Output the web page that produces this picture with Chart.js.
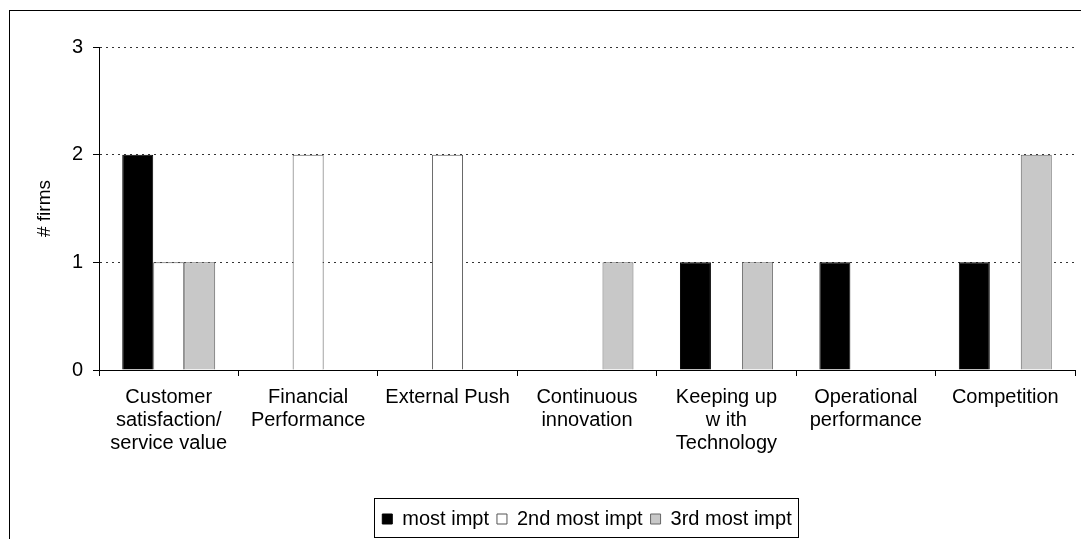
<!DOCTYPE html>
<html>
<head>
<meta charset="utf-8">
<script src="https://cdn.jsdelivr.net/npm/chart.js@4"></script>
<style>
  body { margin: 0; overflow: hidden; background: #fff; }
  .frame { position: absolute; left: 9px; top: 10px; width: 1100px; height: 600px; border: 1px solid #000; }
  #myChart { position: absolute; left: 0; top: 0; }
</style>
</head>
<body>
<div class="frame"></div>
<canvas id="myChart" width="1081" height="539"></canvas>
<script>
// categories and series
const categories = [
    ['Customer', 'satisfaction/', 'service value'],
    ['Financial', 'Performance'],
    ['External Push'],
    ['Continuous', 'innovation'],
    ['Keeping up', 'w ith', 'Technology'],
    ['Operational', 'performance'],
    ['Competition']
];
const mostImpt = [2, 0, 0, 0, 1, 1, 1];
const secondImpt = [1, 2, 2, 0, 0, 0, 0];
const thirdImpt = [1, 0, 0, 1, 1, 0, 2];
const yTicks = [0, 1, 2, 3];

const fontFamily = 'Liberation Sans, Arial, sans-serif';
const fontSize = 20;

// draws the box round the legend
const legendBox = {
    id: 'legendBox',
    afterDraw(chart) {
        const boxes = chart.legend.legendHitBoxes;
        if (!boxes || !boxes.length) return;
        const first = boxes[0];
        const last = boxes[boxes.length - 1];
        const ctx = chart.ctx;
        ctx.save();
        ctx.strokeStyle = '#000';
        ctx.lineWidth = 1;
        ctx.strokeRect(Math.round(first.left) - 7.5, Math.round(first.top) - 10.5,
            Math.round(last.left + last.width - first.left) + 15, 39);
        ctx.restore();
    }
};

let ctx = document.getElementById('myChart').getContext('2d');

let myChart = new Chart(ctx, {
    type: 'bar',
    data: {
        labels: categories,
        datasets: [{
            label: 'most impt',
            data: mostImpt,
            backgroundColor: '#000',
            borderColor: '#000',
            borderWidth: 1
        }, {
            label: '2nd most impt',
            data: secondImpt,
            backgroundColor: '#fff',
            borderColor: '#555',
            borderWidth: 1
        }, {
            label: '3rd most impt',
            data: thirdImpt,
            backgroundColor: '#c8c8c8',
            borderColor: '#666',
            borderWidth: 1
        }]
    },
    options: {
        responsive: false,
        animation: false,
        devicePixelRatio: 1,
        layout: { padding: { left: 0, right: 6, top: 47, bottom: 0 } },
        datasets: { bar: { barPercentage: 1, categoryPercentage: 2 / 3 } },
        plugins: {
            tooltip: { enabled: false },
            legend: {
                position: 'bottom',
                fullSize: false,
                labels: {
                    boxWidth: 10,
                    boxHeight: 10,
                    padding: 8,
                    color: '#000',
                    font: { family: fontFamily, size: fontSize }
                }
            }
        },
        scales: {
            x: {
                afterFit(scale) { scale.height = 131; },
                border: { color: '#000', width: 1 },
                grid: {
                    offset: true,
                    drawOnChartArea: false,
                    drawTicks: true,
                    tickLength: 6,
                    tickColor: '#000'
                },
                ticks: {
                    color: '#000',
                    padding: 10,
                    maxRotation: 0,
                    autoSkip: false,
                    font: { family: fontFamily, size: fontSize, lineHeight: 1.15 }
                }
            },
            y: {
                min: 0,
                max: 3,
                afterFit(scale) { scale.width = 99; },
                afterBuildTicks(scale) { scale.ticks = yTicks.map(v => ({ value: v })); },
                border: { color: '#000', width: 1, dash: [2, 4] },
                grid: {
                    color: '#333',
                    lineWidth: 1,
                    tickBorderDash: [],
                    tickColor: '#000',
                    tickLength: 6
                },
                ticks: {
                    color: '#000',
                    padding: 10,
                    font: { family: fontFamily, size: fontSize }
                },
                title: {
                    display: true,
                    text: '# firms',
                    color: '#000',
                    padding: { top: 33, bottom: 0 },
                    font: { family: fontFamily, size: 19 }
                }
            }
        }
    },
    plugins: [legendBox]
});
</script>
</body>
</html>
